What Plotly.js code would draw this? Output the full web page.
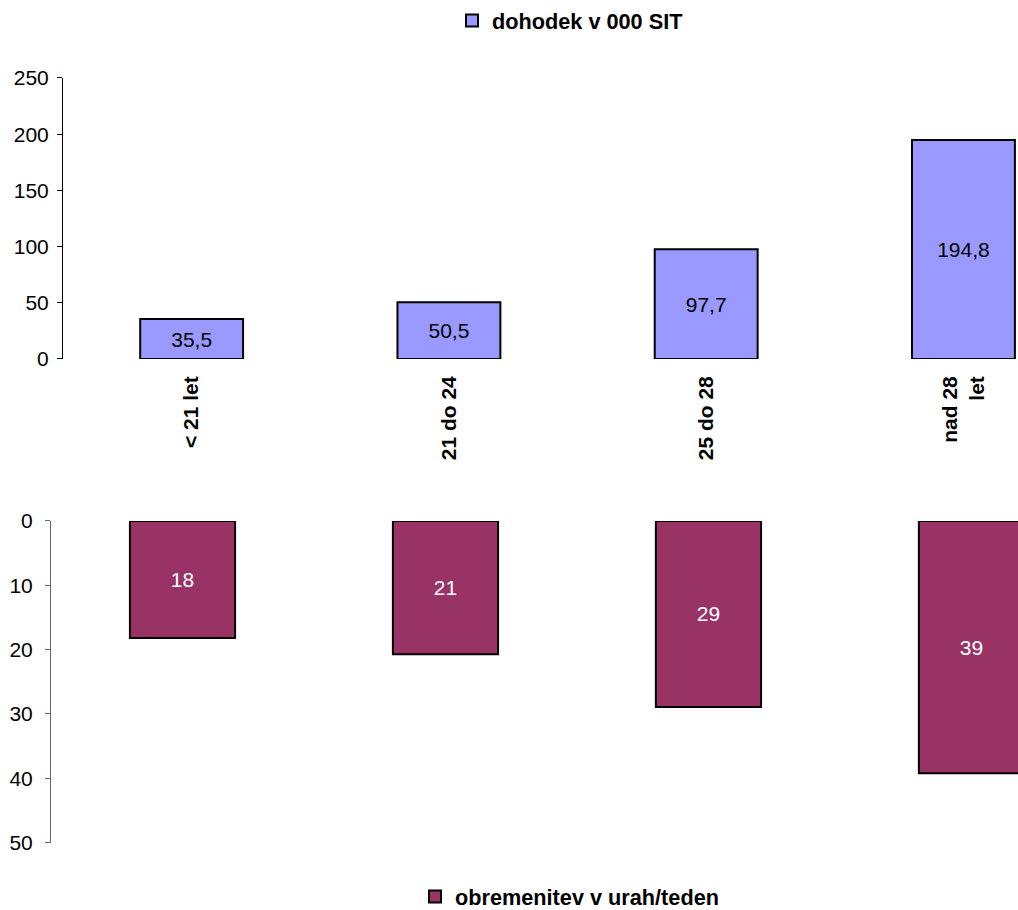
<!DOCTYPE html>
<html>
<head>
<meta charset="utf-8">
<script src="https://cdn.plot.ly/plotly-3.0.1.min.js"></script>
<style>html,body{margin:0;padding:0;background:#fff;}</style>
</head>
<body>
<div id="chart" style="width:1018px;height:910px;"></div>
<script>
var categories = ['< 21 let', '21 do 24', '25 do 28', 'nad 28<br>let'];
var incomeName = 'dohodek v 000 SIT';
var incomeValues = [35.5, 50.5, 97.7, 194.8];
var loadName = 'obremenitev v urah/teden';
var loadValues = [18.2, 20.7, 28.9, 39.2];
var incomeTicks = [0, 50, 100, 150, 200, 250];
var loadTicks = [0, 10, 20, 30, 40, 50];

var FONT = 'Liberation Sans, Arial, sans-serif';

var traces = [
  {
    type: 'bar', name: incomeName, x: categories, y: incomeValues,
    xaxis: 'x', yaxis: 'y', width: 0.4,
    marker: {color: '#9999FF', line: {color: '#000000', width: 2}},
    texttemplate: '%{y:.1f}', textposition: 'inside', insidetextanchor: 'middle',
    textangle: 0, constraintext: 'none',
    textfont: {family: FONT, size: 21, color: '#000000'},
    hoverinfo: 'skip', legend: 'legend'
  },
  {
    type: 'bar', name: loadName, x: categories, y: loadValues,
    xaxis: 'x2', yaxis: 'y2', width: 0.4,
    marker: {color: '#993366', line: {color: '#000000', width: 2}},
    texttemplate: '%{y:.0f}', textposition: 'inside', insidetextanchor: 'middle',
    textangle: 0, constraintext: 'none',
    textfont: {family: FONT, size: 21, color: '#FFFFFF'},
    hoverinfo: 'skip', legend: 'legend2'
  }
];

var layout = {
  width: 1018, height: 910,
  margin: {l: 0, r: 0, t: 0, b: 0, autoexpand: false},
  paper_bgcolor: '#FFFFFF', plot_bgcolor: 'rgba(0,0,0,0)',
  font: {family: FONT, size: 21, color: '#000000'},
  separators: ',.',
  showlegend: true,
  xaxis: {
    domain: [63/1018, 1], range: [-0.5, 3.212], anchor: 'y', automargin: false,
    type: 'category', tickangle: -90, showline: false, showgrid: false,
    zeroline: false, ticks: '', ticklabelstandoff: 12,
    tickfont: {family: FONT, size: 21, weight: 'bold', color: '#000000'}
  },
  yaxis: {
    domain: [0.6055, 0.9143], range: [0, 250], tickvals: incomeTicks, automargin: false,
    anchor: 'x',
    ticks: 'outside', ticklen: 5, tickcolor: '#000000', showline: true,
    linecolor: '#000000', linewidth: 1, showgrid: false, zeroline: false,
    ticklabelstandoff: 4,
    tickfont: {family: FONT, size: 21, color: '#000000'}
  },
  xaxis2: {
    domain: [51/1018, 1], range: [-0.5, 3.177], anchor: 'y2', automargin: false,
    type: 'category', showticklabels: false, showline: false,
    showgrid: false, zeroline: false, ticks: ''
  },
  yaxis2: {
    domain: [0.074, 0.4275], range: [50, 0], tickvals: loadTicks, automargin: false,
    anchor: 'x2',
    ticks: 'outside', ticklen: 5, tickcolor: '#666666', showline: true,
    linecolor: '#666666', linewidth: 1, showgrid: false, zeroline: false,
    ticklabelstandoff: 8,
    tickfont: {family: FONT, size: 21, color: '#000000'}
  },
  legend: {
    x: 452/1018, y: 1 - 21/910, xanchor: 'left', yanchor: 'middle',
    bgcolor: 'rgba(0,0,0,0)', borderwidth: 0,
    font: {family: FONT, size: 21.7, weight: 'bold', color: '#000000'}
  },
  legend2: {
    x: 415/1018, y: 13/910, xanchor: 'left', yanchor: 'middle',
    bgcolor: 'rgba(0,0,0,0)', borderwidth: 0,
    font: {family: FONT, size: 21.7, weight: 'bold', color: '#000000'}
  }
};

Plotly.newPlot('chart', traces, layout, {displayModeBar: false, staticPlot: true});
</script>
</body>
</html>
